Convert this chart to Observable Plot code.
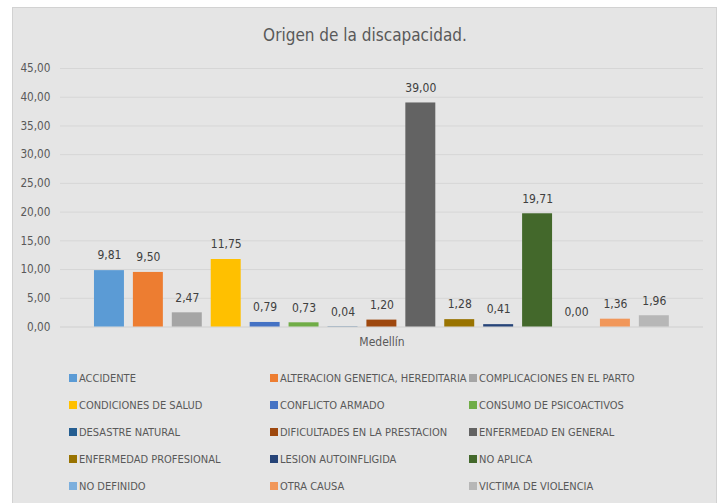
<!DOCTYPE html>
<html>
<head>
<meta charset="utf-8">
<script src="https://cdn.jsdelivr.net/npm/d3@7"></script>
<script src="https://cdn.jsdelivr.net/npm/@observablehq/plot@0.6"></script>
<style>
  html, body { margin: 0; padding: 0; background: #ffffff; width: 720px; height: 503px; overflow: hidden; }
  #page { position: relative; width: 720px; height: 503px; font-family: "DejaVu Sans Condensed", sans-serif; }
  #panel { position: absolute; left: 12px; top: 7px; width: 705px; height: 500px; background: #e5e5e5; border: 1px solid #d2d2d2; box-sizing: border-box; }
  #title { position: absolute; left: 0; width: 730px; top: 23px; text-align: center; font-size: 17px; color: #595959; line-height: 24px; }
  #chart { position: absolute; left: 0; top: 50px; }
  #legend { position: absolute; left: 69px; top: 370px; display: grid; grid-template-columns: 201px 199px 200px; grid-auto-rows: 27px; font-size: 11px; color: #595959; }
  .item { display: flex; align-items: center; height: 16px; white-space: nowrap; }
  .sw { width: 8px; height: 8px; margin-right: 2px; flex: none; }
</style>
</head>
<body>
<div id="page">
  <div id="panel"></div>
  <div id="title">Origen de la discapacidad.</div>
  <div id="chart"></div>
  <div id="legend"></div>
</div>
<script>
const categories = [
  "ACCIDENTE",
  "ALTERACION GENETICA, HEREDITARIA",
  "COMPLICACIONES EN EL PARTO",
  "CONDICIONES DE SALUD",
  "CONFLICTO ARMADO",
  "CONSUMO DE PSICOACTIVOS",
  "DESASTRE NATURAL",
  "DIFICULTADES EN LA PRESTACION",
  "ENFERMEDAD EN GENERAL",
  "ENFERMEDAD PROFESIONAL",
  "LESION AUTOINFLIGIDA",
  "NO APLICA",
  "NO DEFINIDO",
  "OTRA CAUSA",
  "VICTIMA DE VIOLENCIA"
];
const values = [9.81, 9.50, 2.47, 11.75, 0.79, 0.73, 0.04, 1.20, 39.00, 1.28, 0.41, 19.71, 0.00, 1.36, 1.96];
const colors = [
  "#5B9BD5", "#ED7D31", "#A5A5A5", "#FFC000", "#4472C4", "#70AD47",
  "#255E91", "#9E480E", "#636363", "#997300", "#264478", "#43682B",
  "#7CAFDD", "#F1975A", "#B7B7B7"
];
const yTicks = [0, 5, 10, 15, 20, 25, 30, 35, 40, 45];
const groupLabel = ["Medellín"];

const data = categories.map((c, i) => ({cat: c, value: values[i]}));
const fmt = v => v.toFixed(2).replace(".", ",");

const chart = Plot.plot({
  width: 720,
  height: 300,
  marginLeft: 60,
  marginRight: 17,
  marginTop: 18,
  marginBottom: 23.5,
  style: {background: "transparent", fontFamily: '"DejaVu Sans Condensed", sans-serif', fontSize: "11.7px", color: "#595959"},
  x: {domain: categories, range: [89.5, 673.3], paddingInner: 0.23, paddingOuter: 0.115, round: false, axis: null},
  y: {domain: [0, 45], ticks: yTicks, tickFormat: fmt, tickSize: 0, tickPadding: 10, label: null},
  color: {domain: categories, range: colors},
  marks: [
    Plot.ruleY(yTicks.slice(1), {stroke: "#d6d6d6", strokeWidth: 1}),
    Plot.ruleY([0], {stroke: "#cfcfcf", strokeWidth: 1}),
    Plot.barY(data, {x: "cat", y: "value", fill: "cat"}),
    Plot.text(data, {x: "cat", y: "value", text: d => fmt(d.value), dy: -15, fill: "#404040", fontSize: 12}),
    Plot.text(groupLabel, {frameAnchor: "bottom", text: d => d, dy: 19, fill: "#595959", fontSize: 12})
  ]
});
document.getElementById("chart").appendChild(chart);

const legend = document.getElementById("legend");
categories.forEach((c, i) => {
  const item = document.createElement("div");
  item.className = "item";
  const sw = document.createElement("span");
  sw.className = "sw";
  sw.style.background = colors[i];
  const t = document.createElement("span");
  t.textContent = c;
  item.appendChild(sw);
  item.appendChild(t);
  legend.appendChild(item);
});
</script>
</body>
</html>
